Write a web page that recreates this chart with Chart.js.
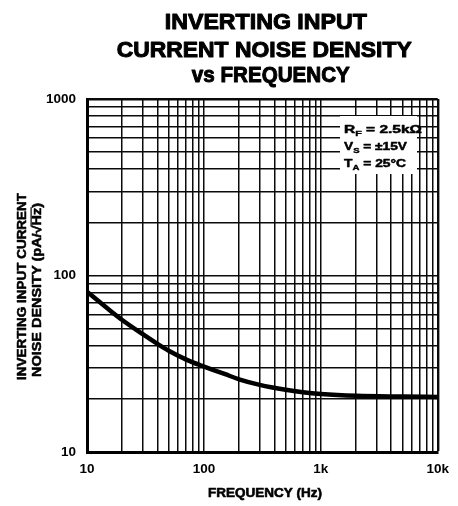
<!DOCTYPE html>
<html>
<head>
<meta charset="utf-8">
<script src="https://cdn.jsdelivr.net/npm/chart.js@4.4.1/dist/chart.umd.min.js"></script>
<style>
  html, body { margin: 0; padding: 0; background: #fff; }
  #wrap { width: 458px; height: 506px; position: relative; }
</style>
</head>
<body>
<div id="wrap"><canvas id="chart"></canvas></div>
<script>
// Inverting input current noise density vs frequency (log-log)
const freqHz = [10, 15, 20, 30, 40, 50, 70, 100, 150, 200, 300, 500, 700, 1000, 2000, 5000, 10000];
const noisePa = [81, 65, 56, 46.5, 41, 37.5, 33.5, 30.5, 27.7, 25.8, 24, 22.5, 21.8, 21.3, 20.8, 20.6, 20.5];

const xGrid = [10, 20, 30, 40, 50, 60, 70, 80, 90, 100, 200, 300, 400, 500, 600, 700, 800, 900,
  1000, 2000, 3000, 4000, 5000, 6000, 7000, 8000, 9000, 10000];
const yGrid = [10, 20, 30, 40, 50, 60, 70, 80, 90, 100, 200, 300, 400, 500, 600, 700, 800, 900, 1000];
const xTickValues = [10, 100, 1000, 10000];
const xTickLabels = ['10', '100', '1k', '10k'];
const yTickValues = [10, 100, 1000];
const yTickLabels = ['10', '100', '1000'];

const titleLines = ['INVERTING INPUT', 'CURRENT NOISE DENSITY', 'vs FREQUENCY'];
const yTitleLines = ['INVERTING INPUT CURRENT', 'NOISE DENSITY (pA/\u221A', 'Hz)'];
const xTitle = 'FREQUENCY (Hz)';
const notes = [
  ['R', 'F', ' = 2.5k\u03A9'],
  ['V', 'S', ' = \u00B115V'],
  ['T', 'A', ' = 25\u00B0C'],
];

const FONT = '"Liberation Sans", Arial, Helvetica, sans-serif';
Chart.defaults.font.family = FONT;
Chart.defaults.color = '#000';

// draw text stretched to a given width, with a thin stroke to make it heavier
function stretchText(ctx, text, x, y, width, align, weight) {
  const w = ctx.measureText(text).width;
  ctx.save();
  ctx.translate(x, y);
  ctx.scale(width / w, 1);
  ctx.textAlign = align;
  ctx.fillText(text, 0, 0);
  if (weight) {
    ctx.lineWidth = weight;
    ctx.strokeStyle = '#000';
    ctx.lineJoin = 'round';
    ctx.strokeText(text, 0, 0);
  }
  ctx.restore();
}

function boldText(ctx, text, x, y, weight) {
  ctx.fillText(text, x, y);
  ctx.lineWidth = weight;
  ctx.strokeStyle = '#000';
  ctx.lineJoin = 'round';
  ctx.strokeText(text, x, y);
}

const textPlugin = {
  id: 'texts',
  beforeDatasetsDraw(chart) {
    const ctx = chart.ctx;
    // white box behind the conditions
    ctx.save();
    ctx.fillStyle = '#fff';
    ctx.fillRect(340, 116, 77, 58);
    ctx.fillStyle = '#000';
    ctx.textBaseline = 'alphabetic';
    const baselines = [132.5, 149.5, 166.5];
    const widths = [78, 63, 62];
    notes.forEach((n, i) => {
      ctx.font = 'bold 11.5px ' + FONT;
      const w1 = ctx.measureText(n[0]).width;
      const w3 = ctx.measureText(n[2]).width;
      ctx.font = 'bold 8px ' + FONT;
      const w2 = ctx.measureText(n[1]).width;
      const s = widths[i] / (w1 + w2 + w3);
      ctx.save();
      ctx.translate(344, baselines[i]);
      ctx.scale(s, 1);
      ctx.textAlign = 'left';
      ctx.font = 'bold 11.5px ' + FONT;
      boldText(ctx, n[0], 0, 0, 0.5);
      ctx.font = 'bold 8px ' + FONT;
      boldText(ctx, n[1], w1, 3, 0.4);
      ctx.font = 'bold 11.5px ' + FONT;
      boldText(ctx, n[2], w1 + w2, 0, 0.5);
      ctx.restore();
    });
    ctx.restore();
  },
  afterDraw(chart) {
    const ctx = chart.ctx;
    ctx.save();
    ctx.fillStyle = '#000';
    ctx.textBaseline = 'alphabetic';
    // main title
    ctx.font = 'bold 22px ' + FONT;
    const tb = [29.3, 56.7, 82.4];
    const tw = [202, 295, 158];
    const tc = [265.8, 264.2, 270.8];
    titleLines.forEach((t, i) => stretchText(ctx, t, tc[i], tb[i], tw[i], 'center', 1));

    // x axis title
    ctx.font = 'bold 13px ' + FONT;
    stretchText(ctx, xTitle, 265, 496.5, 114, 'center', 0.6);

    // y axis title (rotated)
    ctx.font = 'bold 12px ' + FONT;
    ctx.save();
    ctx.translate(25.7, 286.5);
    ctx.rotate(-Math.PI / 2);
    stretchText(ctx, yTitleLines[0], 0, 0, 187, 'center', 0.5);
    ctx.restore();

    ctx.save();
    ctx.translate(40.7, 290);
    ctx.rotate(-Math.PI / 2);
    const wa = ctx.measureText(yTitleLines[1]).width;
    const wb = ctx.measureText(yTitleLines[2]).width;
    const whz = ctx.measureText('Hz').width;
    const s = 174 / (wa + wb);
    ctx.scale(s, 1);
    ctx.textAlign = 'left';
    const x0 = -(wa + wb) / 2;
    boldText(ctx, yTitleLines[1], x0, 0, 0.5);
    boldText(ctx, yTitleLines[2], x0 + wa, 0, 0.5);
    ctx.fillRect(x0 + wa - 1, -10.2, whz + 1.5, 1.2);
    ctx.restore();

    ctx.restore();
  },
};

function gridWidth(edgeValue) {
  return function (c) {
    if (!c.tick) return 1.5;
    if (c.tick.value === edgeValue) return 2.4;
    return 1.5;
  };
}

new Chart(document.getElementById('chart'), {
  type: 'line',
  data: {
    datasets: [{
      data: freqHz.map((f, i) => ({ x: f, y: noisePa[i] })),
      borderColor: '#000',
      borderWidth: 4.5,
      pointRadius: 0,
      cubicInterpolationMode: 'monotone',
      fill: false,
    }],
  },
  options: {
    responsive: true,
    maintainAspectRatio: false,
    animation: false,
    layout: { padding: { top: 99, right: 20, left: 0, bottom: 0 } },
    scales: {
      x: {
        type: 'logarithmic',
        min: 10, max: 10000,
        afterBuildTicks(scale) { scale.ticks = xGrid.map(v => ({ value: v })); },
        afterFit(scale) { scale.height = 54; },
        grid: { color: '#0a0a0a', lineWidth: gridWidth(10000), drawTicks: false },
        border: { display: true, color: '#000', width: 3 },
        ticks: {
          autoSkip: false, maxRotation: 0, padding: 9,
          font: { size: 13.5, weight: 'bold' },
          callback(v) {
            const k = xTickValues.indexOf(v);
            return k >= 0 ? xTickLabels[k] : '';
          },
        },
      },
      y: {
        type: 'logarithmic',
        min: 10, max: 1000,
        afterBuildTicks(scale) { scale.ticks = yGrid.map(v => ({ value: v })); },
        afterFit(scale) { scale.width = 87; },
        grid: { color: '#0a0a0a', lineWidth: gridWidth(1000), drawTicks: false },
        border: { display: true, color: '#000', width: 3 },
        ticks: {
          autoSkip: false, padding: 11,
          font: { size: 13.5, weight: 'bold' },
          callback(v) {
            const k = yTickValues.indexOf(v);
            return k >= 0 ? yTickLabels[k] : '';
          },
        },
      },
    },
    plugins: {
      legend: { display: false },
      tooltip: { enabled: false },
    },
  },
  plugins: [textPlugin],
});
</script>
</body>
</html>
